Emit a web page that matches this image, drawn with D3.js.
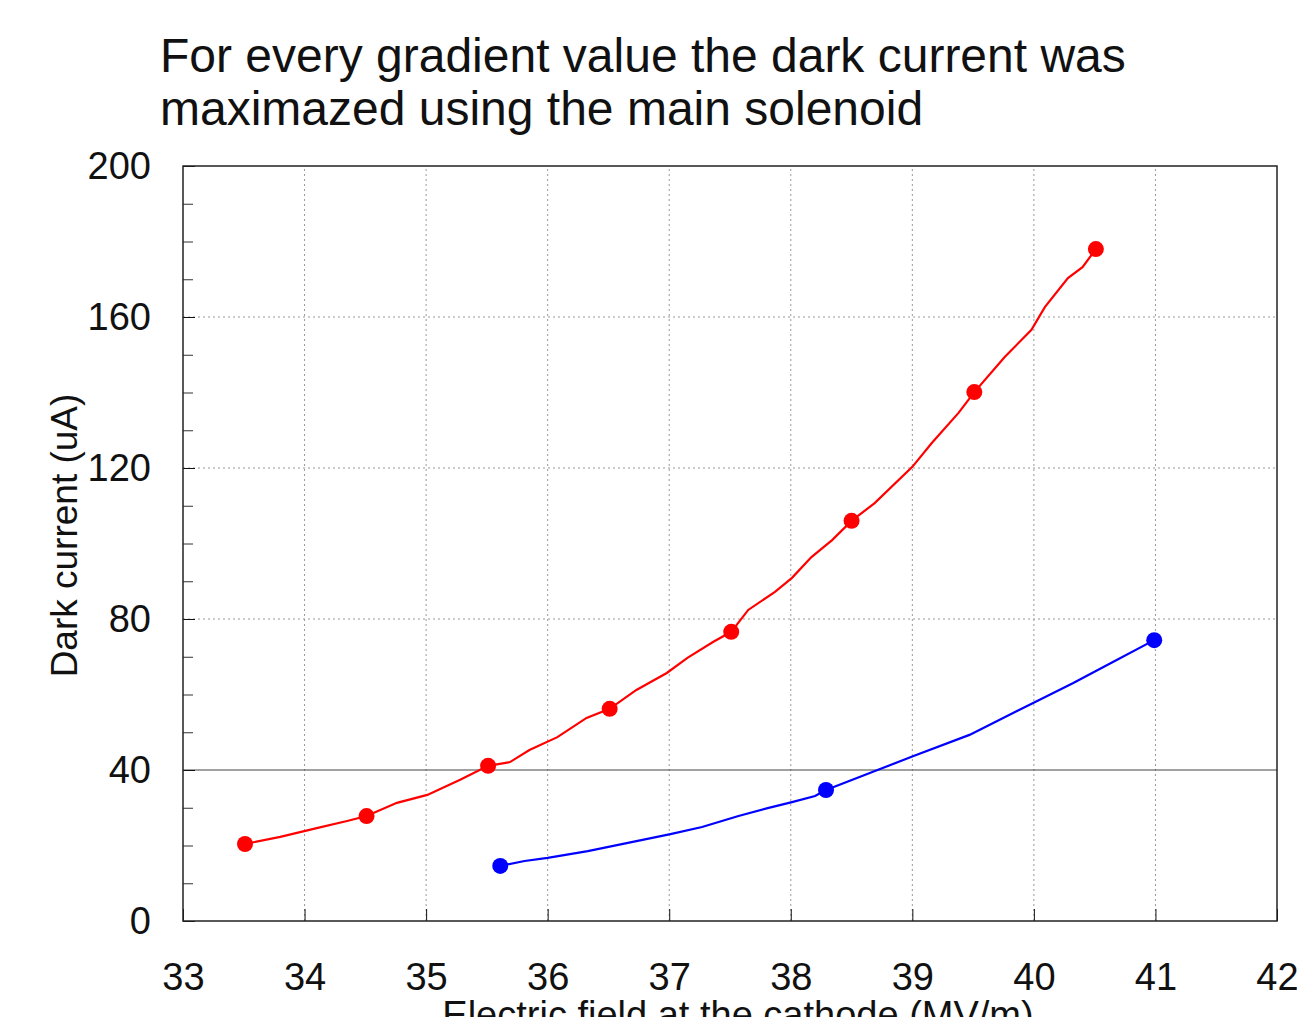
<!DOCTYPE html>
<html lang="en">
<head>
<meta charset="utf-8">
<title>Dark current vs field</title>
<script src="https://d3js.org/d3.v7.js"></script>
<style>
  body { margin: 0; background: #fff; }
  svg text { font-family: "Liberation Sans", Arial, sans-serif; fill: #111; }
</style>
</head>
<body>
<script>
// red curve (gradient scan 1)
const redLineX = [33.51, 33.80, 34.10, 34.35, 34.51, 34.76, 35.01, 35.28, 35.51, 35.69, 35.85, 36.08, 36.32, 36.51, 36.73, 36.98, 37.15, 37.36, 37.51, 37.65, 37.87, 38.01, 38.17, 38.34, 38.50, 38.69, 39.00, 39.16, 39.38, 39.51, 39.76, 39.98, 40.09, 40.28, 40.40, 40.51];
const redLineY = [20.4, 22.3, 24.6, 26.5, 27.8, 31.3, 33.4, 37.4, 41.1, 42.1, 45.3, 48.7, 53.8, 56.2, 61.2, 65.7, 69.7, 73.9, 76.6, 82.4, 87.2, 90.9, 96.4, 100.9, 106.0, 110.7, 120.3, 126.6, 134.6, 140.1, 149.4, 156.6, 162.6, 170.3, 173.2, 178.0];
const redPtsX = [33.51, 34.51, 35.51, 36.51, 37.51, 38.50, 39.51, 40.51];
const redPtsY = [20.4, 27.8, 41.1, 56.2, 76.6, 106.0, 140.1, 178.0];

// blue curve
const blueLineX = [35.61, 35.81, 36.00, 36.33, 36.66, 37.01, 37.27, 37.57, 37.81, 38.01, 38.20, 38.29, 38.65, 39.01, 39.47, 39.99, 40.32, 40.65, 40.99];
const blueLineY = [14.6, 15.9, 16.7, 18.5, 20.7, 23.0, 24.9, 27.8, 29.9, 31.5, 33.1, 34.7, 39.2, 43.7, 49.3, 57.7, 63.0, 68.6, 74.4];
const bluePtsX = [35.61, 38.29, 40.99];
const bluePtsY = [14.6, 34.7, 74.4];

const xTicks = [33, 34, 35, 36, 37, 38, 39, 40, 41, 42];
const yTicks = [0, 40, 80, 120, 160, 200];
const yMinor = d3.range(0, 201, 10);

const w = 1297, h = 1017;
const margin = {top: 166, right: 20, bottom: 96, left: 183};

const svg = d3.select("body").append("svg")
  .attr("width", w)
  .attr("height", h);

const x = d3.scaleLinear().domain([33, 42]).range([margin.left, w - margin.right]);
const y = d3.scaleLinear().domain([0, 200]).range([h - margin.bottom, margin.top]);

// title
svg.append("text")
  .attr("x", 160).attr("y", 72)
  .attr("font-size", 48)
  .text("For every gradient value the dark current was");
svg.append("text")
  .attr("x", 160).attr("y", 125)
  .attr("font-size", 48)
  .text("maximazed using the main solenoid");

// grid
svg.append("g").selectAll("line")
  .data(xTicks.slice(1, -1))
  .join("line")
  .attr("x1", d => x(d)).attr("x2", d => x(d))
  .attr("y1", y(0)).attr("y2", y(200))
  .attr("stroke", "#999").attr("stroke-width", 1).attr("stroke-dasharray", "2,3");

svg.append("g").selectAll("line")
  .data(yTicks.slice(1, -1))
  .join("line")
  .attr("x1", x(33)).attr("x2", x(42))
  .attr("y1", d => y(d)).attr("y2", d => y(d))
  .attr("stroke", d => d == 40 ? "#444" : "#999")
  .attr("stroke-width", d => d == 40 ? 1.2 : 1)
  .attr("stroke-dasharray", d => d == 40 ? null : "2,3");

// axes with inward ticks
const xAxis = d3.axisBottom(x).tickValues(xTicks).tickSize(-12).tickPadding(42).tickFormat(d3.format("d"));
const gx = svg.append("g")
  .attr("transform", `translate(0, ${y(0)})`)
  .call(xAxis);
gx.select(".domain").remove();
gx.selectAll("text").attr("font-size", 38).attr("font-family", "Liberation Sans, Arial, sans-serif").attr("fill", "#111");
gx.selectAll("line").attr("stroke", "#111");

const gyMinor = svg.append("g")
  .attr("transform", `translate(${x(33)}, 0)`)
  .call(d3.axisLeft(y).tickValues(yMinor).tickSize(-10).tickFormat(""));
gyMinor.select(".domain").remove();
gyMinor.selectAll("line").attr("stroke", "#333");

const gy = svg.append("g")
  .attr("transform", `translate(${x(33)}, 0)`)
  .call(d3.axisLeft(y).tickValues(yTicks).tickSize(-12).tickPadding(32));
gy.select(".domain").remove();
gy.selectAll("text").attr("font-size", 38).attr("font-family", "Liberation Sans, Arial, sans-serif").attr("fill", "#111");
gy.selectAll("line").attr("stroke", "#111");

// frame
svg.append("rect")
  .attr("x", x(33)).attr("y", y(200))
  .attr("width", x(42) - x(33)).attr("height", y(0) - y(200))
  .attr("fill", "none").attr("stroke", "#222").attr("stroke-width", 1.5);

// axis titles
svg.append("text")
  .attr("transform", `translate(77, ${(y(0) + y(200)) / 2 - 8}) rotate(-90)`)
  .attr("text-anchor", "middle")
  .attr("font-size", 37)
  .text("Dark current (uA)");
svg.append("text")
  .attr("x", 738).attr("y", 1028)
  .attr("text-anchor", "middle")
  .attr("font-size", 38)
  .text("Electric field at the cathode (MV/m)");

// series
const line = d3.line().x(d => x(d[0])).y(d => y(d[1]));
const series = [
  {color: "#ff0000", lx: redLineX, ly: redLineY, px: redPtsX, py: redPtsY},
  {color: "#0000ff", lx: blueLineX, ly: blueLineY, px: bluePtsX, py: bluePtsY}
];
series.forEach(s => {
  svg.append("path")
    .datum(s.lx.map((v, i) => [v, s.ly[i]]))
    .attr("d", line)
    .attr("fill", "none")
    .attr("stroke", s.color)
    .attr("stroke-width", 2.2);
  svg.append("g").selectAll("circle")
    .data(s.px.map((v, i) => [v, s.py[i]]))
    .join("circle")
    .attr("cx", d => x(d[0])).attr("cy", d => y(d[1]))
    .attr("r", 8)
    .attr("fill", s.color);
});
</script>
</body>
</html>
